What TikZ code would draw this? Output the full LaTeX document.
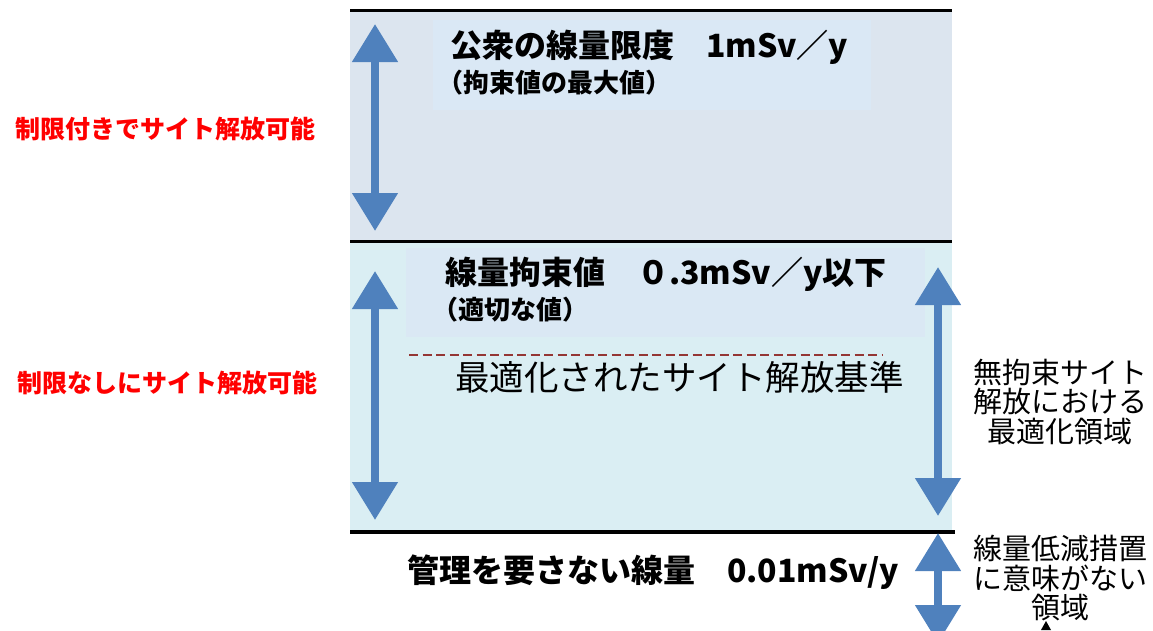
\documentclass[tikz,border=0pt]{standalone}
\usepackage{fontspec}
\setmainfont{Noto Sans CJK JP}
\usetikzlibrary{arrows.meta}
\definecolor{bandtop}{HTML}{DCE5EF}
\definecolor{bandmid}{HTML}{DAEEF3}
\definecolor{innertop}{HTML}{DAE8F5}
\definecolor{innermid}{HTML}{DAE8F4}
\definecolor{arrowblue}{HTML}{4F81BD}
\definecolor{dashred}{HTML}{943634}
\definecolor{redtext}{HTML}{FF0000}
\begin{document}
\begin{tikzpicture}[x=1pt,y=-1pt,
  barrow/.style={draw=arrowblue, line width=8pt,
    {Triangle[width=44pt,length=38pt]}-{Triangle[width=44pt,length=38pt]}},
  rule/.style={draw=black, line width=3pt},
  txt/.style={inner sep=0pt, outer sep=0pt},
  titlebig/.style={txt, font=\fontsize{32}{36}\selectfont\bfseries},
  titlesmall/.style={txt, font=\fontsize{26}{30}\selectfont\bfseries},
  sidelabel/.style={txt, align=center, font=\fontsize{29}{29.5}\selectfont},
  redlabel/.style={txt, text=redtext, font=\fontsize{25}{30}\selectfont\bfseries}]
\useasboundingbox (0,0) rectangle (1153,630);
\clip (0,0) rectangle (1153,630);
% bands
\fill[bandtop] (350,10) rectangle (952,241);
\fill[bandmid] (350,241) rectangle (952,532);
\fill[innertop] (433,20) rectangle (871,110);
\fill[innermid] (406,248) rectangle (925,337);
% rules
\draw[rule] (350,10) -- (952,10);
\draw[rule] (350,241) -- (952,241);
\draw[rule, line width=4pt] (350,532) -- (955,532);
% dashed line
\coordinate (dL) at (409,355);
\coordinate (dR) at (882,355);
\draw[dashred, line width=1.8pt, dash pattern=on 9pt off 4.5pt] (dL) -- (dR);
% arrows
\coordinate (a1t) at (375,24);
\coordinate (a1b) at (375,231);
\draw[barrow] (a1t) -- (a1b);
\coordinate (a2t) at (375,271);
\coordinate (a2b) at (375,520);
\draw[barrow] (a2t) -- (a2b);
\coordinate (a3t) at (938,267);
\coordinate (a3b) at (938,516);
\draw[barrow] (a3t) -- (a3b);
\coordinate (a4t) at (938,533);
\coordinate (a4b) at (938,643);
\draw[barrow] (a4t) -- (a4b);
% small black arrowhead
\coordinate (tipA) at (1046,621);
\fill[black] (tipA) -- ++(5,9) -- ++(-10,0) -- cycle;
% texts
\node[titlebig, anchor=west] (t1) at (450,47) {公衆の線量限度　1mSv／y};
\node[titlesmall, anchor=west] (t1s) at (437,83) {（拘束値の最大値）};
\node[titlebig, anchor=west] (t2) at (445,274) {線量拘束値　０.3mSv／y以下};
\node[titlesmall, anchor=west] (t2s) at (432,310) {（適切な値）};
\node[txt, anchor=west, font=\fontsize{34.5}{38}\selectfont] (t3) at (455,377) {最適化されたサイト解放基準};
\node[txt, anchor=west, font=\fontsize{32}{38}\selectfont\bfseries] (t4) at (407,572) {管理を要さない線量　0.01mSv/y};
\node[sidelabel] (r1) at (1060,402) {無拘束サイト\\解放における\\最適化領域};
\node[sidelabel] (r2) at (1060,578) {線量低減措置\\に意味がない\\領域};
\node[redlabel] (l1) at (165,129) {制限付きでサイト解放可能};
\node[redlabel] (l2) at (167,383) {制限なしにサイト解放可能};
\end{tikzpicture}
\end{document}
